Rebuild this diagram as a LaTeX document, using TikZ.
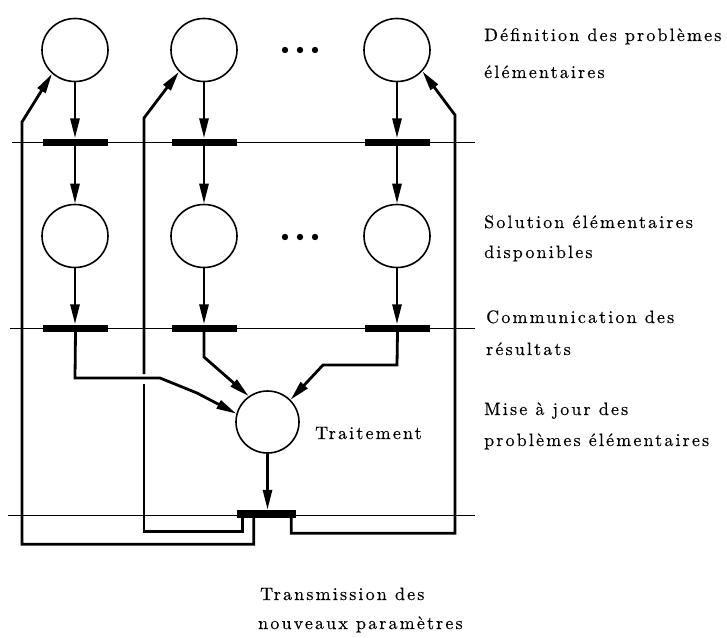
\documentclass[tikz,border=0pt]{standalone}
\usepackage{fontspec}
\usetikzlibrary{arrows.meta,calc,shapes.geometric}

% labels: Latin Modern at 10pt design size, tracked out, then enlarged
\newfontfamily\lblfont{lmroman10-regular}[Extension=.otf, LetterSpace=12, FakeBold=0.4]
\newcommand\lbltext[1]{\scalebox{1.8}{#1}}

\tikzset{
  place/.style={ellipse, draw, line width=1.6pt, minimum width=66pt, minimum height=63pt, inner sep=0pt},
  placeT/.style={ellipse, draw, line width=1.6pt, minimum width=63pt, minimum height=62pt, inner sep=0pt},
  bar/.style={rectangle, fill=black, draw=none, minimum width=65pt, minimum height=7pt, inner sep=0pt},
  level/.style={line width=0.8pt},
  arc/.style={line width=2.8pt, -{Triangle[length=20pt,width=9pt]}},
  plainarc/.style={line width=2.8pt},
  lbl/.style={anchor=base west, inner sep=0pt,
    font=\lblfont\fontsize{10}{12}\selectfont},
}

\begin{document}
\begin{tikzpicture}[x=1pt, y=-1pt]
\useasboundingbox (0,0) rectangle (727,637);

% phase separators
\draw[level] (12,142) -- (475,142);
\draw[level] (10,328) -- (475,328);
\draw[level] (8,515) -- (475,515);

% places: elementary problems and solutions
\node[place] (p1) at (75,50) {};
\node[place] (p2) at (204,50) {};
\node[place] (p3) at (397,50) {};
\node[place] (s1) at (75,236) {};
\node[place] (s2) at (204,236) {};
\node[place] (s3) at (397,236) {};
\node[placeT] (tr) at (267.5,422) {};

% ellipsis dots
\foreach \yy in {50,237}{
  \foreach \xx in {285,300,315}{ \fill (\xx,\yy) circle (3.2pt); }
}

% transitions
\node[bar] (ta1) at (75.5,142) {};
\node[bar] (ta2) at (204,142) {};
\node[bar] (ta3) at (397.5,142) {};
\node[bar] (tb1) at (75.5,328) {};
\node[bar] (tb2) at (204,328) {};
\node[bar] (tb3) at (397.5,328) {};
\node[bar, minimum width=59pt, minimum height=8pt] (tc) at (266.5,514) {};

% downward flow in each column
\foreach \c in {1,2,3}{
  \draw[arc] (p\c.south) -- (p\c.south |- ta\c.north);
  \draw[arc] (p\c.south |- ta\c.south) -- (s\c.north);
  \draw[arc] (s\c.south) -- (s\c.south |- tb\c.north);
}

% results gathered by the update place
\draw[arc] (tb1.south) -- (75,378) -- (160,378) -- (197,393) -- (tr.165);
\draw[arc] (tb2.south) -- (204,357) -- (tr.126);
\draw[arc] (tb3.south) -- (397,365) -- (323,365) -- (tr.44);
\draw[arc] (tr.south) -- (tr.south |- tc.north);

% feedback of the new parameters
\draw[arc] ([xshift=17pt]tc.south west) -- ++(0,26) -| (22,122) -- (p1.226);
\draw[plainarc] ([xshift=6pt]tc.south west) -- ++(0,13) -| (144,384);
\draw[arc] (144,374) -- (144,118) -- (p2.221);
\draw[arc] ([xshift=-5pt]tc.south east) -- ++(0,15) -| (455,115) -- (p3.320);

% labels
\node[lbl] (d1) at (484,41) {\lbltext{Définition des problèmes}};
\node[lbl] (d2) at (484,78) {\lbltext{élémentaires}};
\node[lbl] (e1) at (484,228) {\lbltext{Solution élémentaires}};
\node[lbl] (e2) at (484,258) {\lbltext{disponibles}};
\node[lbl] (c1) at (486,323) {\lbltext{Communication des}};
\node[lbl] (c2) at (486,355) {\lbltext{résultats}};
\node[lbl] (m1) at (484,415) {\lbltext{Mise à jour des}};
\node[lbl] (m2) at (484,446) {\lbltext{problèmes élémentaires}};
\node[lbl] (tt) at (315,439) {\lbltext{Traitement}};
\node[lbl] (n1) at (260,600) {\lbltext{Transmission des}};
\node[lbl] (n2) at (258,629) {\lbltext{nouveaux paramètres}};
\end{tikzpicture}
\end{document}
